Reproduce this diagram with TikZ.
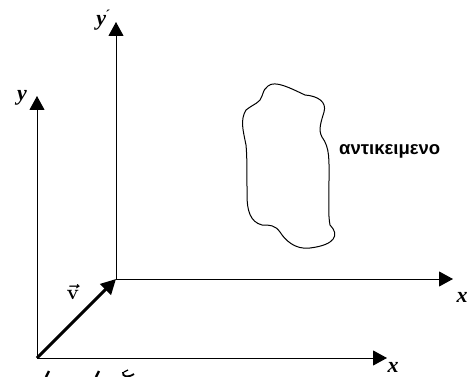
\documentclass[tikz,border=0pt]{standalone}
\usepackage{fontspec}
\setmainfont{Liberation Serif}
\newfontfamily\grfont{Liberation Sans}
\usetikzlibrary{arrows.meta}
\begin{document}
\begin{tikzpicture}[x=1pt,y=-1pt,
  axis/.style={line width=1pt,-{Triangle[length=14pt,width=15pt]}},
  vec/.style={line width=3pt,-{Triangle[length=15pt,width=15pt]}},
  lbl/.style={font=\fontsize{22}{22}\selectfont\bfseries\itshape, inner sep=0pt},
  blob/.style={line width=1pt}]
\useasboundingbox (0,0) rectangle (469,377);
% origins
\coordinate (O) at (37,358);
\coordinate (Op) at (116,279);
\coordinate (yt) at (37,96);
\coordinate (xt) at (387,358);
\coordinate (ypt) at (116,22);
\coordinate (xpt) at (453,279);
\draw[axis] (O) -- (yt);
\draw[axis] (O) -- (xt);
\draw[axis] (Op) -- (ypt);
\draw[axis] (Op) -- (xpt);
\draw[vec] (O) -- (Op);
\node[lbl] (ly) at (22,98) {y};
\node[lbl] (lx) at (393,367) {x};
\node[lbl] (lyp) at (103,20) {y\kern0pt\raisebox{3pt}{\fontsize{14}{14}\selectfont\'{}}};
\node[lbl] (lxp) at (462,297) {x};
\node[inner sep=0pt, font=\boldmath\fontsize{21}{21}\selectfont] (lv) at (73,292) {$\vec{\mathbf{v}}$};
% object
\draw[blob] (268,86) .. controls (275,80) and (290,88) .. (305,95)
  .. controls (318,96) and (327,102) .. (324,112)
  .. controls (321,122) and (318,130) .. (322,137)
  .. controls (330,148) and (329,160) .. (329,180)
  .. controls (329,200) and (328,215) .. (330,225)
  .. controls (340,235) and (335,245) .. (310,248)
  .. controls (295,250) and (285,240) .. (280,232)
  .. controls (275,225) and (270,225) .. (262,225)
  .. controls (250,222) and (247,210) .. (247,195)
  .. controls (247,170) and (247,155) .. (246,145)
  .. controls (243,130) and (240,120) .. (246,110)
  .. controls (255,103) and (260,103) .. (262,96)
  .. controls (264,90) and (265,88) .. (268,86) -- cycle;
\node[inner sep=0pt, anchor=west, font=\grfont\fontsize{18.5}{18.5}\selectfont\bfseries] (obj) at (339,151) {αντικειμενο};
% clipped fragments at the bottom
\draw[line width=2.4pt] (49,371) -- (46,377);
\draw[line width=2.4pt] (99,371) -- (96,377);
\draw[line width=1.8pt] (123,372) .. controls (122,377) and (128,378) .. (134,374);
\draw[line width=1.2pt] (124,372) -- (128,370);
\end{tikzpicture}
\end{document}
